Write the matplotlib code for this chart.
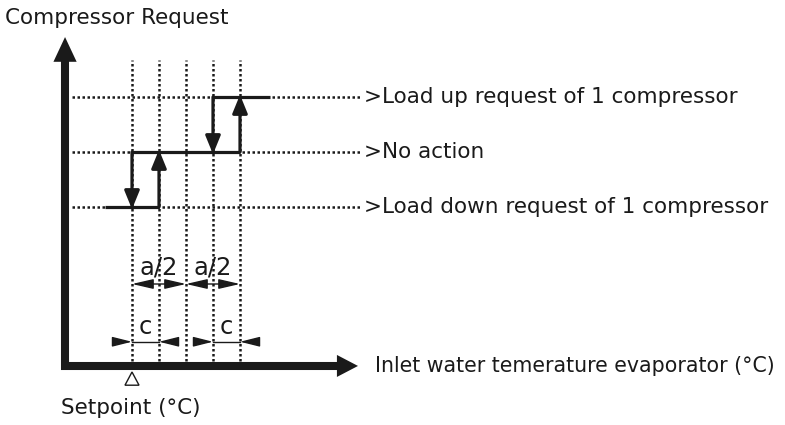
import matplotlib
matplotlib.use("Agg")
import matplotlib.pyplot as plt

plt.rcParams['font.family'] = ['DejaVu Sans']

# switching thresholds, in units of c, measured from the setpoint
thresholds = [0, 1, 2, 3, 4]
# request levels: load down, no action, load up
levels = [0, 1, 2]
level_labels = [">Load down request of 1 compressor", ">No action",
                ">Load up request of 1 compressor"]

# hysteresis path: horizontal pieces (x start, x end) per level
steps_x = [[-1.0, 1], [0, 4], [3, 5.1]]
steps_y = [0, 1, 2]
# vertical transitions: x, from level, to level
trans_x = [0, 1, 3, 4]
trans_from = [1, 0, 2, 1]
trans_to = [0, 1, 1, 2]

# dimension marks
half_a = [(0, 2), (2, 4)]
c_dims = [(0, 1), (3, 4)]

ink = "#1a1a1a"

fig = plt.figure(figsize=(7.85, 4.25), dpi=100)
ax = fig.add_axes([0, 0, 1, 1])
ax.set_xlim(-132 / 27, 653 / 27)
ax.set_ylim(-218 / 55, 207 / 55)
ax.axis("off")

y_ax = -2.48
x_ax = -2.89

# dotted grid
for x in thresholds:
    ax.plot([x, x], [x_ax, 2.67], color=ink, lw=1.8, ls=(0, (1, 1)))
for lv, lab in zip(levels, level_labels):
    ax.plot([-2.22, 8.44], [lv, lv], color=ink, lw=1.8, ls=(0, (1, 1)))
    ax.text(8.6, lv, lab, fontsize=15.5, va="center", ha="left", color=ink)

# axes with heads
ax.plot([y_ax, y_ax], [-2.96, 2.7], color=ink, lw=5.8, solid_capstyle="butt")
ax.fill([y_ax - 0.43, y_ax + 0.43, y_ax], [2.64, 2.64, 3.09], color=ink, lw=0)
ax.plot([-2.63, 7.65], [x_ax, x_ax], color=ink, lw=5.8, solid_capstyle="butt")
ax.fill([7.59, 7.59, 8.37], [x_ax - 0.2, x_ax + 0.2, x_ax], color=ink, lw=0)

# hysteresis steps
for (xa, xb), lv in zip(steps_x, steps_y):
    ax.plot([xa, xb], [lv, lv], color=ink, lw=2.3, solid_capstyle="butt")
for x, a, b in zip(trans_x, trans_from, trans_to):
    ax.annotate("", xy=(x, b + (0.04 if b > a else -0.04)), xytext=(x, a),
                arrowprops=dict(arrowstyle="-|>,head_length=1.1,head_width=0.45",
                                color=ink, lw=2.3, shrinkA=0, shrinkB=0,
                                mutation_scale=10))

# a/2 dimensions
for xa, xb in half_a:
    ax.annotate("", xy=(xb, -1.4), xytext=(xa, -1.4),
                arrowprops=dict(arrowstyle="<|-|>,head_length=1.3,head_width=0.3",
                                color=ink, lw=1, shrinkA=0, shrinkB=0,
                                mutation_scale=10))
    ax.text((xa + xb) / 2, -1.1, "a/2", fontsize=17.5, ha="center", va="center",
            color=ink)

# c dimensions (arrows from outside)
for xa, xb in c_dims:
    ax.plot([xa, xb], [-2.45, -2.45], color=ink, lw=1)
    for start, end in [(xa - 0.7, xa), (xb + 0.7, xb)]:
        ax.annotate("", xy=(end, -2.45), xytext=(start, -2.45),
                    arrowprops=dict(arrowstyle="-|>,head_length=1.2,head_width=0.3",
                                    color=ink, lw=1, shrinkA=0, shrinkB=0,
                                    mutation_scale=10))
    ax.text((xa + xb) / 2, -2.18, "c", fontsize=17.5, ha="center", va="center",
            color=ink)

# setpoint marker
ax.fill([-0.26, 0.26, 0], [-3.24, -3.24, -3.0], facecolor="white",
        edgecolor=ink, lw=1)

ax.text(-4.7, 3.44, "Compressor Request", fontsize=15.5, va="center", ha="left",
        color=ink)
ax.text(-0.05, -3.66, "Setpoint (°C)", fontsize=15.5, va="center", ha="center",
        color=ink)
ax.text(9.0, x_ax, "Inlet water temerature evaporator (°C)", fontsize=14.8,
        va="center", ha="left", color=ink)

fig.savefig("out.png", dpi=100)
